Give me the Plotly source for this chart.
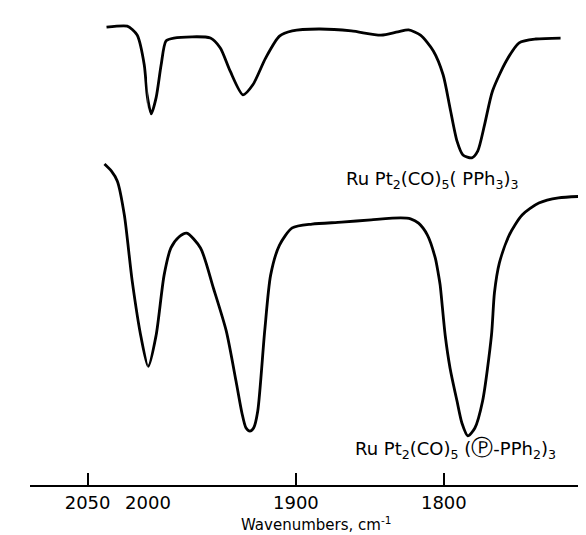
import plotly.graph_objects as go

# Upper spectrum: RuPt2(CO)5(PPh3)3  (wavenumber cm-1, relative transmittance)
upper_wn = [2034.3, 2017.1, 2012.9, 2008.8, 2003.0, 2000.6, 1997.8, 1994.5, 1991.1, 1987.8,
            1982.5, 1957.8, 1951.1, 1944.5, 1935.8, 1929.1, 1920.5, 1911.1, 1902.5, 1884.5,
            1862.5, 1842.5, 1831.1, 1823.8, 1815.8, 1807.1, 1800.5, 1795.8, 1791.1, 1787.1,
            1781.1, 1777.1, 1772.5, 1767.1, 1757.8, 1749.1, 1737.8, 1721.1]
upper_t = [96.0, 96.2, 95.5, 94.3, 88.1, 81.8, 77.8, 81.2, 88.1, 93.1,
           93.7, 93.7, 91.6, 86.8, 81.8, 83.9, 89.5, 94.1, 95.2, 95.6,
           95.2, 94.3, 95.0, 95.4, 94.3, 91.0, 86.0, 79.0, 72.1, 69.2,
           68.6, 70.0, 75.5, 82.6, 88.9, 92.7, 93.5, 93.7]

# Lower spectrum: RuPt2(CO)5(P-PPh2)3 (polymer bound)
lower_wn = [2036.0, 2030.2, 2025.3, 2019.5, 2013.0, 2005.5, 1999.8, 1994.5, 1989.1, 1984.5,
            1979.1, 1973.8, 1964.5, 1955.8, 1947.1, 1940.5, 1936.5, 1933.8, 1931.1, 1928.5,
            1925.8, 1921.1, 1917.1, 1911.1, 1902.5, 1889.1, 1869.1, 1849.1, 1829.1, 1822.5,
            1817.1, 1811.1, 1805.8, 1803.8, 1802.5, 1799.1, 1795.8, 1791.1, 1787.8, 1783.8,
            1779.1, 1773.8, 1767.8, 1765.8, 1762.5, 1755.8, 1747.1, 1735.8, 1722.5, 1698.0]
lower_t = [67.3, 65.8, 63.7, 56.6, 42.8, 30.8, 24.9, 31.4, 44.0, 49.7,
           52.0, 52.8, 49.7, 41.3, 32.3, 21.8, 15.1, 12.0, 11.3, 12.0,
           15.5, 32.3, 44.0, 50.3, 53.9, 54.7, 55.1, 55.6, 56.0, 55.8,
           54.9, 52.4, 47.6, 44.4, 41.9, 31.4, 24.5, 17.6, 13.0, 10.3,
           11.9, 17.6, 31.4, 40.3, 46.5, 52.4, 56.6, 59.1, 60.2, 60.6]

tick_vals_high = [2050]
tick_vals_low = [2000, 1900, 1800]

label_upper = "Ru Pt<sub>2</sub>(CO)<sub>5</sub>( PPh<sub>3</sub>)<sub>3</sub>"
label_lower = ("Ru Pt<sub>2</sub>(CO)<sub>5</sub> (<span style=\"font-size:22px\">\u24c5</span>"
               "-PPh<sub>2</sub>)<sub>3</sub>")
x_title = "Wavenumbers, cm<sup>-1</sup>"

FONT = "DejaVu Sans"
line = dict(color="black", width=2.8, shape="spline", smoothing=0.7)

fig = go.Figure()
# Chart paper has a scale change at 2000 cm-1: two x axes, each clipping the same curves
for xa in ["x", "x2"]:
    fig.add_trace(go.Scatter(x=upper_wn, y=upper_t, mode="lines", line=line,
                             xaxis=xa, yaxis="y", hoverinfo="skip", showlegend=False))
    fig.add_trace(go.Scatter(x=lower_wn, y=lower_t, mode="lines", line=line,
                             xaxis=xa, yaxis="y", hoverinfo="skip", showlegend=False))

split = (133.7 - 15) / 571.0
common_axis = dict(showline=True, linecolor="black", linewidth=2, ticks="inside",
                   ticklen=12, tickwidth=1.5, tickcolor="black", showgrid=False,
                   zeroline=False, tickfont=dict(family=FONT, size=18, color="black"),
                   anchor="y")
fig.update_layout(
    width=586, height=535,
    margin=dict(l=15, r=0, t=0, b=58),
    paper_bgcolor="white", plot_bgcolor="white",
    xaxis=dict(domain=[0, split], range=[2097.8, 2000.5], tickvals=tick_vals_high, **common_axis),
    xaxis2=dict(domain=[split, 1], range=[2000.5, 1698.5], tickvals=tick_vals_low, **common_axis),
    yaxis=dict(range=[0, 100], visible=False, domain=[0, 1]),
)

fig.add_annotation(x=1867.8, y=64.0, xref="x2", yref="y", text=label_upper,
                   showarrow=False, xanchor="left", yanchor="middle",
                   font=dict(family=FONT, size=18, color="black"))
fig.add_annotation(x=1861.1, y=7.6, xref="x2", yref="y", text=label_lower,
                   showarrow=False, xanchor="left", yanchor="middle",
                   font=dict(family=FONT, size=18, color="black"))
fig.add_annotation(x=(305 - 15) / 571.0, y=(477 - 516) / 477.0, xref="paper", yref="paper",
                   text=x_title, showarrow=False, xanchor="center", yanchor="middle",
                   font=dict(family=FONT, size=15, color="black"))

fig.write_html("out.html", config={"displayModeBar": False})
